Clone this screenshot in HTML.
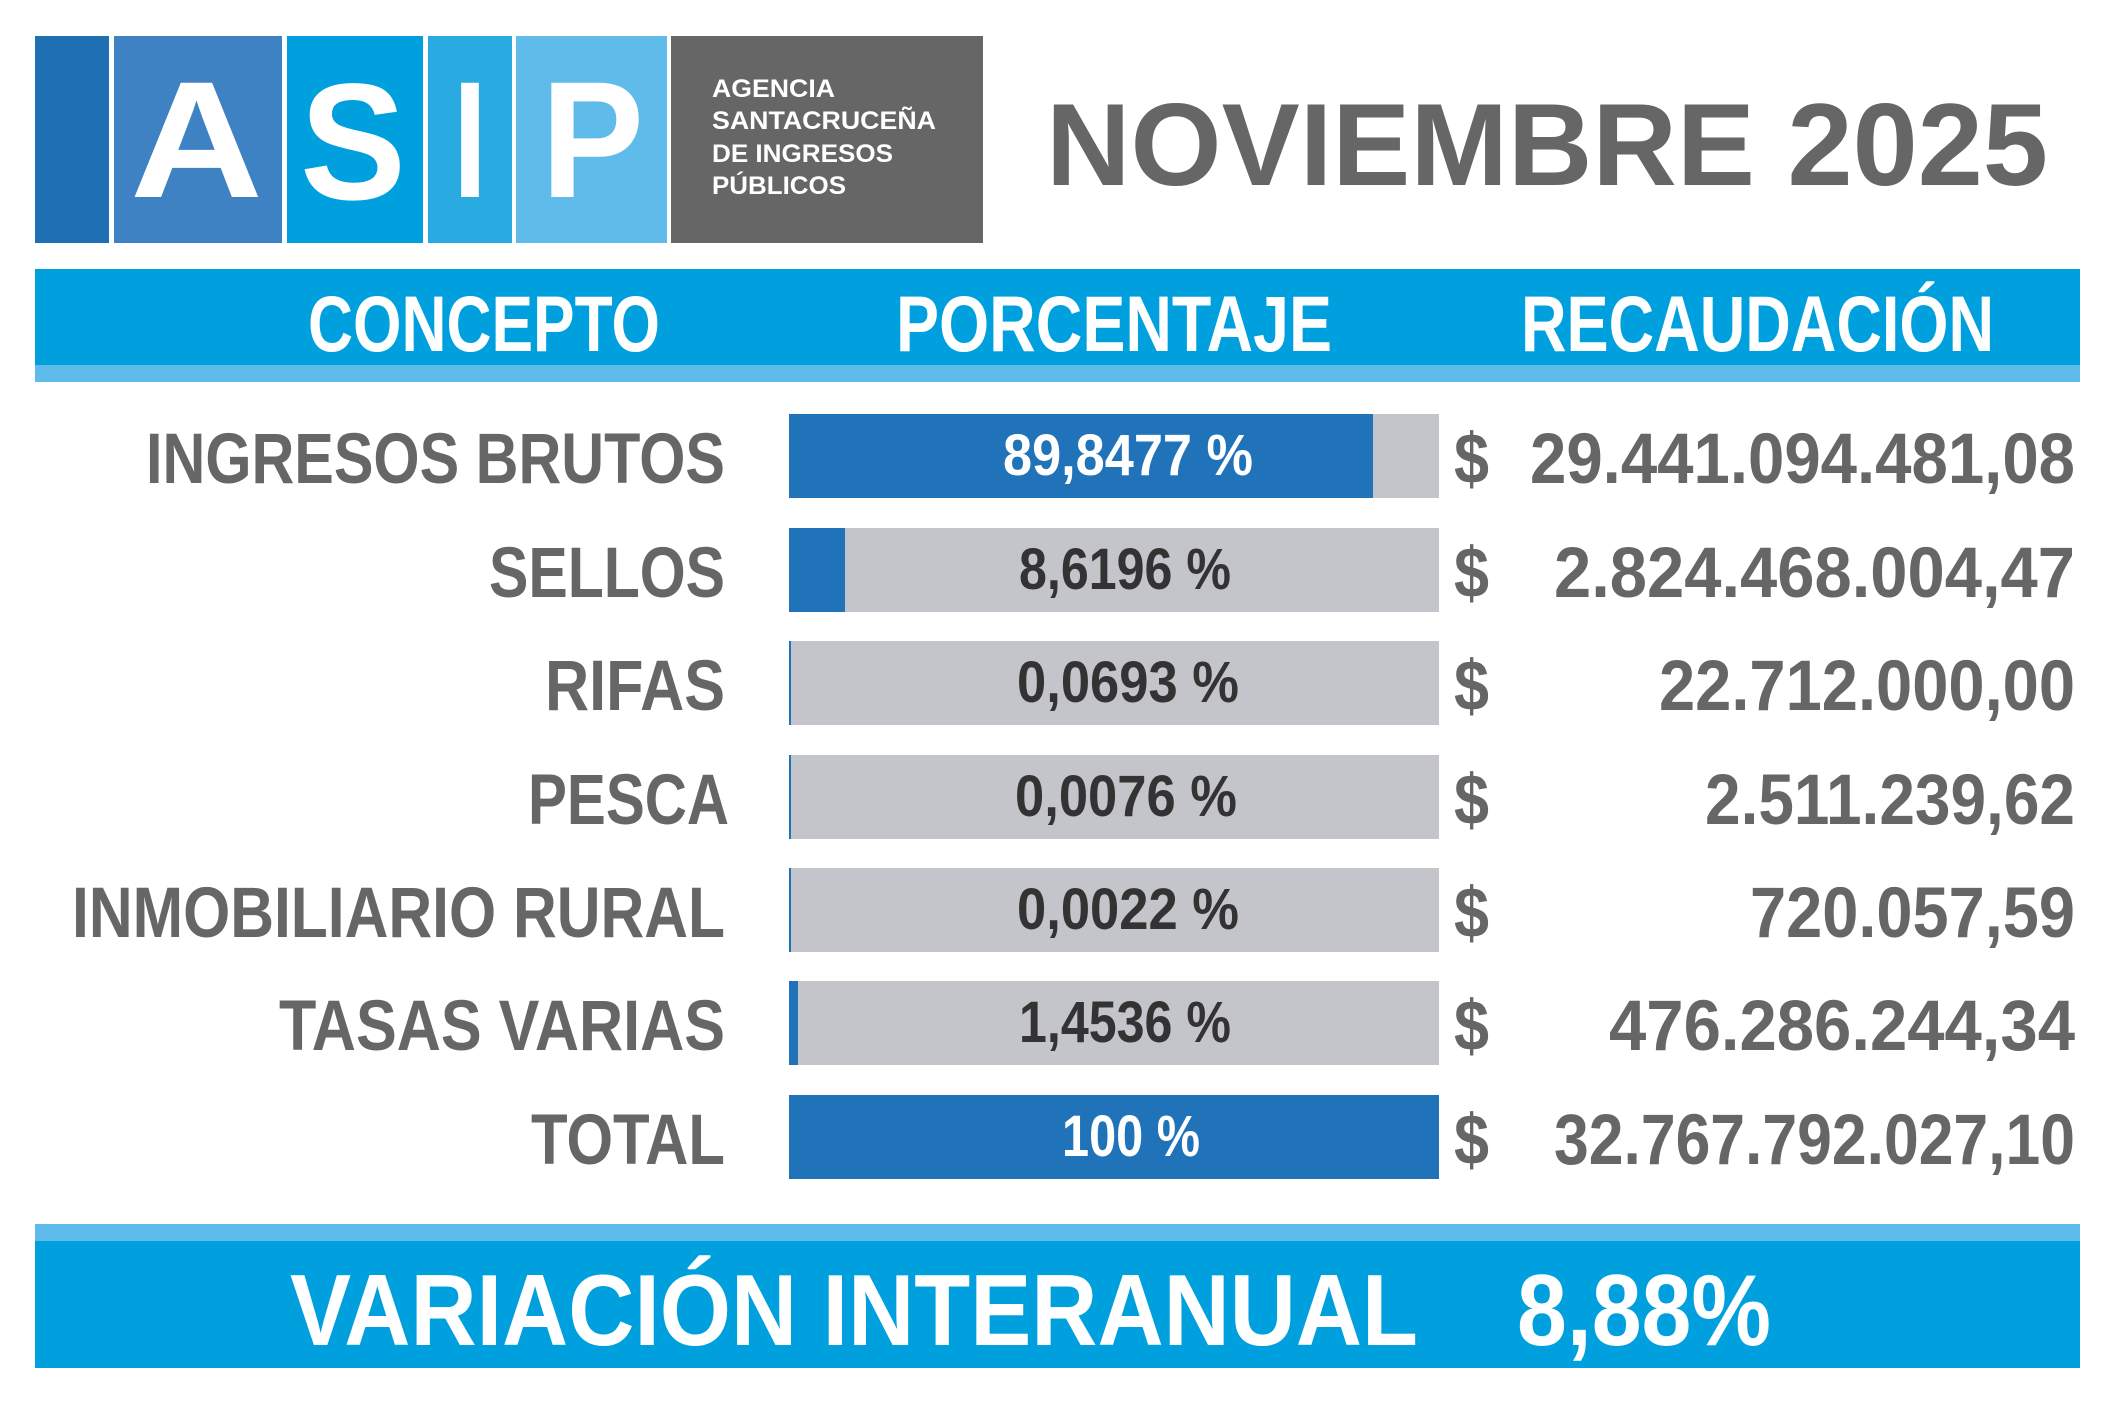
<!DOCTYPE html>
<html><head><meta charset="utf-8"><style>
html,body{margin:0;padding:0;background:#fff;}
svg{display:block;}
text{font-family:"Liberation Sans","DejaVu Sans",sans-serif;font-weight:bold;}
</style></head><body>
<svg width="2117" height="1411" viewBox="0 0 2117 1411" xmlns="http://www.w3.org/2000/svg">
<rect x="0" y="0" width="2117" height="1411" fill="#fff"/>
<rect x="35" y="36" width="74" height="207" fill="#1f6fb5"/>
<rect x="114" y="36" width="168" height="207" fill="#3f82c4"/>
<rect x="287" y="36" width="136" height="207" fill="#00a0de"/>
<rect x="428" y="36" width="84" height="207" fill="#29abe2"/>
<rect x="516" y="36" width="151" height="207" fill="#5ebbea"/>
<rect x="671" y="36" width="312" height="207" fill="#666666"/>
<text x="130" y="197" font-size="166" fill="#fff" textLength="133" lengthAdjust="spacingAndGlyphs">A</text>
<text x="300" y="199" font-size="166" fill="#fff" textLength="106" lengthAdjust="spacingAndGlyphs">S</text>
<text x="453" y="197" font-size="166" fill="#fff" textLength="34" lengthAdjust="spacingAndGlyphs">I</text>
<text x="541" y="197" font-size="166" fill="#fff" textLength="103" lengthAdjust="spacingAndGlyphs">P</text>
<g font-size="25" fill="#fff">
<text x="712" y="97" textLength="123" lengthAdjust="spacingAndGlyphs">AGENCIA</text>
<text x="712" y="129" textLength="224" lengthAdjust="spacingAndGlyphs">SANTACRUCEÑA</text>
<text x="712" y="162" textLength="181" lengthAdjust="spacingAndGlyphs">DE INGRESOS</text>
<text x="712" y="194" textLength="134" lengthAdjust="spacingAndGlyphs">PÚBLICOS</text>
</g>
<text x="1046" y="185" font-size="117" fill="#666" textLength="1002" lengthAdjust="spacingAndGlyphs">NOVIEMBRE 2025</text>
<rect x="35" y="269" width="2045" height="96" fill="#00a0df"/>
<rect x="35" y="365" width="2045" height="17" fill="#5ebbea"/>
<g font-size="79" fill="#fff">
<text x="308" y="351" textLength="352" lengthAdjust="spacingAndGlyphs">CONCEPTO</text>
<text x="896" y="351" textLength="436" lengthAdjust="spacingAndGlyphs">PORCENTAJE</text>
<text x="1521" y="351" textLength="473" lengthAdjust="spacingAndGlyphs">RECAUDACIÓN</text>
</g>
<g font-size="71" fill="#666">
<text x="146" y="483" textLength="579" lengthAdjust="spacingAndGlyphs">INGRESOS BRUTOS</text>
<text x="489" y="597" textLength="236" lengthAdjust="spacingAndGlyphs">SELLOS</text>
<text x="545" y="710" textLength="180" lengthAdjust="spacingAndGlyphs">RIFAS</text>
<text x="528" y="824" textLength="201" lengthAdjust="spacingAndGlyphs">PESCA</text>
<text x="72" y="937" textLength="653" lengthAdjust="spacingAndGlyphs">INMOBILIARIO RURAL</text>
<text x="279" y="1050" textLength="446" lengthAdjust="spacingAndGlyphs">TASAS VARIAS</text>
<text x="531" y="1164" textLength="194" lengthAdjust="spacingAndGlyphs">TOTAL</text>
</g>
<g>
<rect x="789" y="414" width="650" height="84" fill="#c4c5ca"/><rect x="789" y="414" width="584" height="84" fill="#2072b9"/>
<rect x="789" y="528" width="650" height="84" fill="#c4c5ca"/><rect x="789" y="528" width="56" height="84" fill="#2072b9"/>
<rect x="789" y="641" width="650" height="84" fill="#c4c5ca"/><rect x="789" y="641" width="2" height="84" fill="#2072b9"/>
<rect x="789" y="755" width="650" height="84" fill="#c4c5ca"/><rect x="789" y="755" width="2" height="84" fill="#2072b9"/>
<rect x="789" y="868" width="650" height="84" fill="#c4c5ca"/><rect x="789" y="868" width="2" height="84" fill="#2072b9"/>
<rect x="789" y="981" width="650" height="84" fill="#c4c5ca"/><rect x="789" y="981" width="9" height="84" fill="#2072b9"/>
<rect x="789" y="1095" width="650" height="84" fill="#2072b9"/>
</g>
<g font-size="58">
<text x="1003" y="475" fill="#fff" textLength="250" lengthAdjust="spacingAndGlyphs">89,8477 %</text>
<text x="1019" y="589" fill="#333" textLength="212" lengthAdjust="spacingAndGlyphs">8,6196 %</text>
<text x="1017" y="702" fill="#333" textLength="222" lengthAdjust="spacingAndGlyphs">0,0693 %</text>
<text x="1015" y="816" fill="#333" textLength="222" lengthAdjust="spacingAndGlyphs">0,0076 %</text>
<text x="1017" y="929" fill="#333" textLength="222" lengthAdjust="spacingAndGlyphs">0,0022 %</text>
<text x="1019" y="1042" fill="#333" textLength="212" lengthAdjust="spacingAndGlyphs">1,4536 %</text>
<text x="1062" y="1156" fill="#fff" textLength="138" lengthAdjust="spacingAndGlyphs">100 %</text>
</g>
<g font-size="71" fill="#666">
<text x="1454" y="483" textLength="35" lengthAdjust="spacingAndGlyphs">$</text>
<text x="1454" y="597" textLength="35" lengthAdjust="spacingAndGlyphs">$</text>
<text x="1454" y="710" textLength="35" lengthAdjust="spacingAndGlyphs">$</text>
<text x="1454" y="824" textLength="35" lengthAdjust="spacingAndGlyphs">$</text>
<text x="1454" y="937" textLength="35" lengthAdjust="spacingAndGlyphs">$</text>
<text x="1454" y="1050" textLength="35" lengthAdjust="spacingAndGlyphs">$</text>
<text x="1454" y="1164" textLength="35" lengthAdjust="spacingAndGlyphs">$</text>
<text x="1530" y="483" textLength="545" lengthAdjust="spacingAndGlyphs">29.441.094.481,08</text>
<text x="1554" y="597" textLength="521" lengthAdjust="spacingAndGlyphs">2.824.468.004,47</text>
<text x="1659" y="710" textLength="416" lengthAdjust="spacingAndGlyphs">22.712.000,00</text>
<text x="1705" y="824" textLength="370" lengthAdjust="spacingAndGlyphs">2.511.239,62</text>
<text x="1750" y="937" textLength="325" lengthAdjust="spacingAndGlyphs">720.057,59</text>
<text x="1609" y="1050" textLength="466" lengthAdjust="spacingAndGlyphs">476.286.244,34</text>
<text x="1554" y="1164" textLength="521" lengthAdjust="spacingAndGlyphs">32.767.792.027,10</text>
</g>
<rect x="35" y="1224" width="2045" height="17" fill="#5ebbea"/>
<rect x="35" y="1241" width="2045" height="127" fill="#00a0df"/>
<g font-size="101" fill="#fff">
<text x="290" y="1345" textLength="1128" lengthAdjust="spacingAndGlyphs">VARIACIÓN INTERANUAL</text>
<text x="1517" y="1345" textLength="254" lengthAdjust="spacingAndGlyphs">8,88%</text>
</g>
</svg>
</body></html>
